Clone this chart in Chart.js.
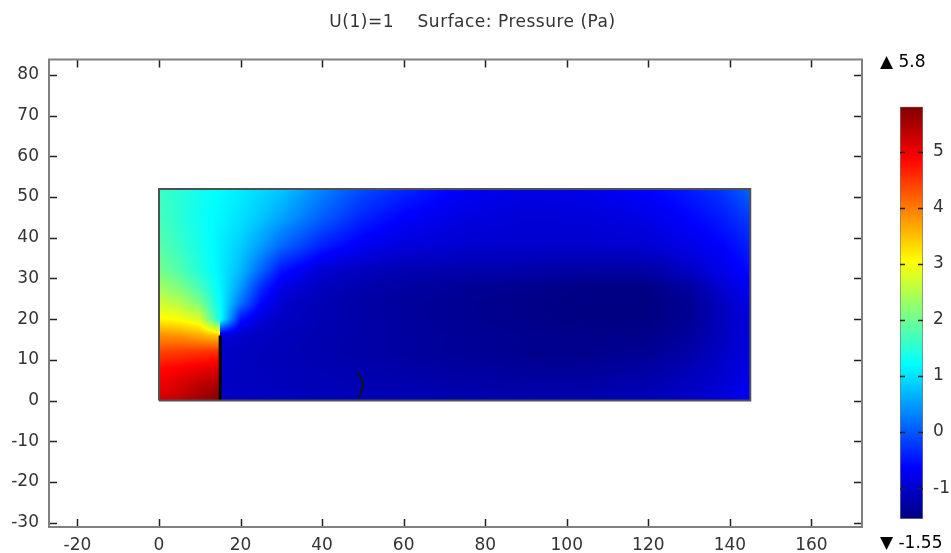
<!DOCTYPE html>
<html>
<head>
<meta charset="utf-8">
<title>Surface: Pressure</title>
<script src="https://cdn.jsdelivr.net/npm/chart.js@4.4.0/dist/chart.umd.min.js"></script>
<style>
  html, body { margin: 0; padding: 0; background: #fff; }
  #wrap { position: relative; width: 951px; height: 553px; }
  #wrap canvas { position: absolute; left: 0; top: 0; }
</style>
</head>
<body>
<div id="wrap">
  <canvas id="surface" width="951" height="553"></canvas>
  <canvas id="colorbar" width="951" height="553"></canvas>
</div>
<script>
const plotTitle = 'U(1)=1    Surface: Pressure (Pa)'
const fontFamily = "'DejaVu Sans', sans-serif"
const textColor = '#333'

// axis ticks
const xTicks = [-20, 0, 20, 40, 60, 80, 100, 120, 140, 160]
const yTicks = [-30, -20, -10, 0, 10, 20, 30, 40, 50, 60, 70, 80]

// colour range of the pressure legend
const colorMin = -1.55
const colorMax = 5.8
const colorTicks = [-1, 0, 1, 2, 3, 4, 5]

// sample nodes of the pressure field; x = 15 twice, one per face of the wall
const xNodes = [0, 5, 10, 15, 15, 20, 25, 30, 40, 50, 60, 75, 90, 105, 120, 130, 138, 145]
const yNodes = [0, 4, 8, 12, 16, 20, 24, 28, 32, 38, 45, 52]

// pressure (Pa), one row per yNodes entry, columns follow xNodes
const pressure = [
  [5.2, 5.35, 5.6, 5.8, -1.05, -1.07, -1.08, -1.1, -1.12, -1.14, -1.16, -1.19, -1.2, -1.19, -1.12, -1.02, -0.9, -0.7],
  [5.0, 5.15, 5.35, 5.5, -1.05, -1.08, -1.1, -1.12, -1.15, -1.18, -1.21, -1.26, -1.29, -1.28, -1.2, -1.08, -0.95, -0.75],
  [4.8, 4.9, 5.0, 5.1, -1.05, -1.09, -1.12, -1.14, -1.18, -1.22, -1.26, -1.32, -1.37, -1.37, -1.3, -1.17, -1.0, -0.8],
  [4.4, 4.45, 4.5, 4.55, -1.0, -1.08, -1.12, -1.15, -1.21, -1.27, -1.32, -1.39, -1.44, -1.46, -1.41, -1.27, -1.05, -0.85],
  [3.85, 3.8, 3.65, 3.4, -0.9, -1.0, -1.08, -1.12, -1.2, -1.26, -1.32, -1.38, -1.43, -1.47, -1.47, -1.34, -1.1, -0.85],
  [3.1, 3.0, 2.75, 1.3, 1.3, -0.5, -0.92, -1.06, -1.18, -1.26, -1.33, -1.41, -1.47, -1.52, -1.52, -1.4, -1.12, -0.85],
  [2.7, 2.5, 2.1, 1.2, 1.2, 0.2, -0.6, -0.98, -1.17, -1.27, -1.34, -1.42, -1.48, -1.53, -1.53, -1.42, -1.1, -0.78],
  [2.35, 2.1, 1.7, 1.15, 1.15, 0.5, -0.3, -0.8, -1.1, -1.22, -1.3, -1.38, -1.43, -1.5, -1.5, -1.3, -0.95, -0.68],
  [2.05, 1.8, 1.45, 1.1, 1.1, 0.7, 0.1, -0.5, -0.95, -1.1, -1.18, -1.22, -1.25, -1.3, -1.28, -1.05, -0.8, -0.55],
  [1.85, 1.6, 1.35, 1.1, 1.1, 0.85, 0.5, 0.12, -0.42, -0.75, -0.9, -0.98, -1.0, -1.0, -0.95, -0.8, -0.65, -0.4],
  [1.7, 1.5, 1.3, 1.15, 1.15, 1.0, 0.8, 0.55, 0.05, -0.38, -0.65, -0.85, -0.92, -0.9, -0.8, -0.62, -0.45, -0.2],
  [1.62, 1.5, 1.33, 1.2, 1.2, 1.08, 0.95, 0.8, 0.32, -0.1, -0.35, -0.7, -0.82, -0.78, -0.62, -0.45, -0.25, 0.1]
]

// geometry outline, the thin wall and the small streamline mark
const domainX = [0, 145, 145, 0, 0]
const domainY = [0, 0, 52, 52, 0]
const wallX = [15, 15]
const wallY = [0, 16]
const markX = [48.7, 49.8, 50.0, 49.4, 48.9]
const markY = [6.9, 5.0, 3.5, 1.6, 0.8]

const toPoints = (xs, ys) => xs.map((x, i) => ({ x: x, y: ys[i] }))

// rainbow (jet) colour map, t in 0..1
const jet = (t) => {
  const c = v => Math.round(255 * Math.min(1, Math.max(0, v)))
  return [c(1.5 - Math.abs(4 * t - 3)), c(1.5 - Math.abs(4 * t - 2)), c(1.5 - Math.abs(4 * t - 1))]
}
const colorOf = (v) => jet((v - colorMin) / (colorMax - colorMin))

// find the cell holding value v (zero-width cells are skipped)
const findCell = (nodes, v) => {
  for (let i = 0; i < nodes.length - 1; i++) {
    if (nodes[i] <= v && v < nodes[i + 1]) return i
  }
  return nodes.length - 2
}

const samplePressure = (vx, vy) => {
  const i = findCell(xNodes, vx)
  const j = findCell(yNodes, vy)
  const tx = (vx - xNodes[i]) / (xNodes[i + 1] - xNodes[i])
  const ty = (vy - yNodes[j]) / (yNodes[j + 1] - yNodes[j])
  const p00 = pressure[j][i], p10 = pressure[j][i + 1]
  const p01 = pressure[j + 1][i], p11 = pressure[j + 1][i + 1]
  return (p00 * (1 - tx) + p10 * tx) * (1 - ty) + (p01 * (1 - tx) + p11 * tx) * ty
}

// paints the pressure surface pixel by pixel through the chart scales
const surfacePlugin = {
  id: 'surface',
  beforeDatasetsDraw(chart) {
    const { ctx, scales: { x, y } } = chart
    const x0 = xNodes[0], x1 = xNodes[xNodes.length - 1]
    const y0 = yNodes[0], y1 = yNodes[yNodes.length - 1]
    const left = Math.floor(x.getPixelForValue(x0))
    const right = Math.ceil(x.getPixelForValue(x1))
    const top = Math.floor(y.getPixelForValue(y1))
    const bottom = Math.ceil(y.getPixelForValue(y0))
    const w = right - left, h = bottom - top
    const off = document.createElement('canvas')
    off.width = w
    off.height = h
    const octx = off.getContext('2d')
    const img = octx.createImageData(w, h)
    for (let r = 0; r < h; r++) {
      const vy = y.getValueForPixel(top + r + 0.5)
      for (let c = 0; c < w; c++) {
        const vx = x.getValueForPixel(left + c + 0.5)
        if (vx < x0 || vx > x1 || vy < y0 || vy > y1) continue
        const rgb = colorOf(samplePressure(vx, vy))
        const k = (r * w + c) * 4
        img.data[k] = rgb[0]
        img.data[k + 1] = rgb[1]
        img.data[k + 2] = rgb[2]
        img.data[k + 3] = 255
      }
    }
    octx.putImageData(img, 0, 0)
    ctx.drawImage(off, left, top)
  }
}

// frame with inward tick marks on all four sides, plus the title
const framePlugin = {
  id: 'frame',
  afterDraw(chart) {
    const { ctx, chartArea: a, scales: { x, y } } = chart
    ctx.save()
    ctx.strokeStyle = '#222'
    ctx.lineWidth = 1.5
    ctx.beginPath()
    xTicks.forEach(v => {
      const px = Math.round(x.getPixelForValue(v)) + 0.5
      ctx.moveTo(px, a.bottom); ctx.lineTo(px, a.bottom - 8)
      ctx.moveTo(px, a.top); ctx.lineTo(px, a.top + 8)
    })
    yTicks.forEach(v => {
      const py = Math.round(y.getPixelForValue(v)) + 0.5
      ctx.moveTo(a.left, py); ctx.lineTo(a.left + 8, py)
      ctx.moveTo(a.right, py); ctx.lineTo(a.right - 8, py)
    })
    ctx.stroke()
    ctx.strokeStyle = '#808080'
    ctx.lineWidth = 2
    ctx.strokeRect(a.left, a.top, a.right - a.left, a.bottom - a.top)

    ctx.fillStyle = textColor
    ctx.font = '17px ' + fontFamily
    ctx.letterSpacing = '0.5px'
    ctx.textAlign = 'center'
    ctx.textBaseline = 'alphabetic'
    ctx.fillText(plotTitle, chart.width / 2 - 3, 27)
    ctx.restore()
  }
}

const tickFont = { family: fontFamily, size: 17 }

const surfaceChart = new Chart(document.getElementById('surface'), {
  type: 'scatter',
  data: {
    datasets: [
      {
        label: 'domain',
        data: toPoints(domainX, domainY),
        showLine: true,
        borderColor: '#505050',
        borderWidth: 2,
        pointRadius: 0
      },
      {
        label: 'wall',
        data: toPoints(wallX, wallY),
        showLine: true,
        borderColor: '#000',
        borderWidth: 3,
        pointRadius: 0
      },
      {
        label: 'streamline',
        data: toPoints(markX, markY),
        showLine: true,
        borderColor: '#111',
        borderWidth: 2,
        tension: 0.4,
        pointRadius: 0
      }
    ]
  },
  options: {
    responsive: false,
    animation: false,
    layout: { padding: { left: 9, top: 59.5, right: 89, bottom: 0 } },
    plugins: {
      legend: { display: false },
      tooltip: { enabled: false }
    },
    scales: {
      x: {
        type: 'linear',
        min: -26.97,
        max: 172.4,
        grid: { display: false, drawTicks: false },
        border: { display: false },
        afterBuildTicks: s => { s.ticks = xTicks.map(v => ({ value: v })) },
        afterFit: s => { s.height = 26 },
        ticks: { color: textColor, padding: 8, font: tickFont }
      },
      y: {
        type: 'linear',
        min: -31.06,
        max: 83.8,
        grid: { display: false, drawTicks: false },
        border: { display: false },
        afterBuildTicks: s => { s.ticks = yTicks.map(v => ({ value: v })) },
        afterFit: s => { s.width = 40 },
        ticks: { color: textColor, padding: 10, font: tickFont }
      }
    }
  },
  plugins: [surfacePlugin, framePlugin]
})

// colour legend: one floating bar spanning the pressure range
const legendPlugin = {
  id: 'legendMarks',
  afterDatasetsDraw(chart) {
    const { ctx, chartArea: a, scales: { y } } = chart
    ctx.save()
    ctx.strokeStyle = '#222'
    ctx.lineWidth = 1.5
    ctx.beginPath()
    colorTicks.forEach(v => {
      const py = Math.round(y.getPixelForValue(v)) + 0.5
      ctx.moveTo(a.left, py); ctx.lineTo(a.left + 5, py)
      ctx.moveTo(a.right, py); ctx.lineTo(a.right - 5, py)
    })
    ctx.stroke()
    ctx.fillStyle = '#000'
    ctx.font = '17px ' + fontFamily
    ctx.textAlign = 'left'
    ctx.textBaseline = 'middle'
    ctx.fillText('\u25B2 ' + colorMax, 880, 63)
    ctx.fillText('\u25BC ' + colorMin, 880, 544)
    ctx.restore()
  }
}

const colorbarChart = new Chart(document.getElementById('colorbar'), {
  type: 'bar',
  data: {
    labels: ['p'],
    datasets: [{
      data: [[colorMin, colorMax]],
      barPercentage: 1,
      categoryPercentage: 1,
      borderColor: '#777',
      borderWidth: 1,
      borderSkipped: false,
      backgroundColor: (context) => {
        const chart = context.chart
        if (!chart.chartArea) return '#00f'
        const y = chart.scales.y
        const bottom = y.getPixelForValue(colorMin)
        const top = y.getPixelForValue(colorMax)
        const g = chart.ctx.createLinearGradient(0, bottom, 0, top)
        for (let k = 0; k <= 32; k++) {
          const rgb = jet(k / 32)
          g.addColorStop(k / 32, 'rgb(' + rgb.join(',') + ')')
        }
        return g
      }
    }]
  },
  options: {
    responsive: false,
    animation: false,
    layout: { padding: { left: 900, top: 106.7, right: 0, bottom: 34 } },
    plugins: {
      legend: { display: false },
      tooltip: { enabled: false }
    },
    scales: {
      x: { display: false },
      y: {
        position: 'right',
        min: colorMin,
        max: colorMax,
        grid: { display: false, drawTicks: false },
        border: { display: false },
        afterBuildTicks: s => { s.ticks = colorTicks.map(v => ({ value: v })) },
        afterFit: s => { s.width = 28 },
        ticks: { color: textColor, padding: 10, font: tickFont }
      }
    }
  },
  plugins: [legendPlugin]
})
</script>
</body>
</html>
